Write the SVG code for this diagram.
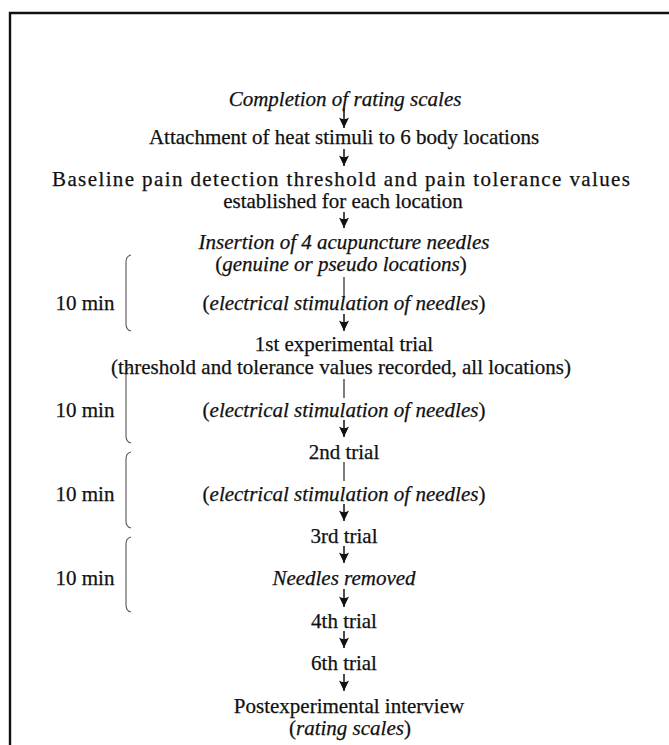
<svg xmlns="http://www.w3.org/2000/svg" width="669" height="745" viewBox="0 0 669 745">
<style>
text{font-family:"Liberation Serif","Times New Roman",serif;font-size:21px;fill:#111;stroke:#111;stroke-width:0.25;text-anchor:middle}
.it{font-style:italic}
.frame{stroke:#111;stroke-width:2.4;fill:none}
.c line{stroke:#111;stroke-width:1.5}
.c line.plain{stroke-width:1.1}
.brace{stroke:#555;stroke-width:1.1;fill:none}
</style>
<defs>
<marker id="ah" markerUnits="userSpaceOnUse" markerWidth="12" markerHeight="12" viewBox="-6 -11 12 12" refX="0" refY="0" orient="0">
<path d="M0,0 L-5,-10.5 Q0,-7 5,-10.5 Z" fill="#111"/>
</marker>
</defs>
<rect width="669" height="745" fill="#fff"/>
<path class="frame" d="M10,745 L10,13 L669,13"/>
<g id="connectors" class="c">
<line x1="344" y1="108" x2="344" y2="128" marker-end="url(#ah)"/>
<line x1="344" y1="149" x2="344" y2="166" marker-end="url(#ah)"/>
<line x1="344" y1="212" x2="344" y2="228" marker-end="url(#ah)"/>
<line class="plain" x1="344" y1="277" x2="344" y2="297"/>
<line x1="344" y1="314" x2="344" y2="331" marker-end="url(#ah)"/>
<line class="plain" x1="344" y1="379" x2="344" y2="398"/>
<line x1="344" y1="420" x2="344" y2="437" marker-end="url(#ah)"/>
<line class="plain" x1="344" y1="462" x2="344" y2="481"/>
<line x1="344" y1="504" x2="344" y2="521" marker-end="url(#ah)"/>
<line x1="344" y1="546" x2="344" y2="563" marker-end="url(#ah)"/>
<line x1="344" y1="589" x2="344" y2="607" marker-end="url(#ah)"/>
<line x1="344" y1="631" x2="344" y2="648" marker-end="url(#ah)"/>
<line x1="344" y1="674" x2="344" y2="691" marker-end="url(#ah)"/>
</g>
<g id="braces">
<g id="brace1"><path class="brace" d="M131,255 Q126,256 126,262 L126,324 Q126,330 131,331"/><text x="85" y="310">10 min</text></g>
<g id="brace2"><path class="brace" d="M131,367 Q126,368 126,374 L126,436 Q126,442 131,443"/><text x="85" y="417">10 min</text></g>
<g id="brace3"><path class="brace" d="M131,452 Q126,453 126,459 L126,521 Q126,527 131,528"/><text x="85" y="501">10 min</text></g>
<g id="brace4"><path class="brace" d="M131,537 Q126,538 126,544 L126,605 Q126,611 131,612"/><text x="85" y="585">10 min</text></g>
</g>
<g id="n1"><text class="it" x="345" y="106">Completion of rating scales</text></g>
<g id="n2"><text x="344" y="144">Attachment of heat stimuli to 6 body locations</text></g>
<g id="n3"><text x="52" y="186" style="text-anchor:start" textLength="578" lengthAdjust="spacing">Baseline pain detection threshold and pain tolerance values</text><text x="343" y="208">established for each location</text></g>
<g id="n4"><text class="it" x="344" y="249">Insertion of 4 acupuncture needles</text><text x="341" y="271">(<tspan class="it">genuine or pseudo locations</tspan>)</text></g>
<g id="n5"><text x="344" y="310">(<tspan class="it">electrical stimulation of needles</tspan>)</text></g>
<g id="n6"><text x="344" y="351">1st experimental trial</text><text x="341" y="374">(threshold and tolerance values recorded, all locations)</text></g>
<g id="n7"><text x="344" y="417">(<tspan class="it">electrical stimulation of needles</tspan>)</text></g>
<g id="n8"><text x="344" y="459">2nd trial</text></g>
<g id="n9"><text x="344" y="501">(<tspan class="it">electrical stimulation of needles</tspan>)</text></g>
<g id="n10"><text x="344" y="543">3rd trial</text></g>
<g id="n11"><text class="it" x="344" y="585">Needles removed</text></g>
<g id="n12"><text x="344" y="628">4th trial</text></g>
<g id="n13"><text x="344" y="670">6th trial</text></g>
<g id="n14"><text x="349" y="713">Postexperimental interview</text><text x="350" y="735">(<tspan class="it">rating scales</tspan>)</text></g>
</svg>
